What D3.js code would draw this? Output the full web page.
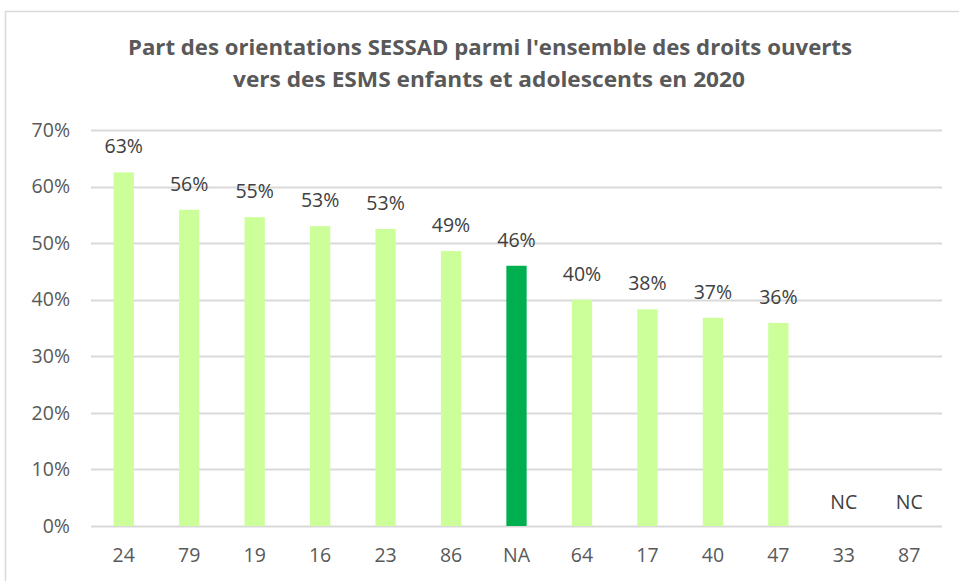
<!DOCTYPE html>
<html>
<head>
<meta charset="utf-8">
<script src="https://cdn.jsdelivr.net/npm/d3@7"></script>
<style>
  body { margin: 0; background: #fff; }
  svg { display: block; font-family: "Open Sans", "Liberation Sans", sans-serif; }
</style>
</head>
<body>
<svg id="chart" width="959" height="581"></svg>
<script>
var categories = ["24", "79", "19", "16", "23", "86", "NA", "64", "17", "40", "47", "33", "87"];
var values = [0.625, 0.559, 0.546, 0.530, 0.525, 0.486, 0.460, 0.400, 0.383, 0.368, 0.359, null, null];
var labels = ["63%", "56%", "55%", "53%", "53%", "49%", "46%", "40%", "38%", "37%", "36%", "NC", "NC"];
var yTicks = [0, 0.1, 0.2, 0.3, 0.4, 0.5, 0.6, 0.7];

var svg = d3.select("#chart");
var margin = { left: 91, right: 17 };
var width = 959;

// chart frame
svg.append("rect")
   .attr("x", 5.5).attr("y", 11.5)
   .attr("width", 980).attr("height", 600)
   .attr("fill", "#fff")
   .attr("stroke", "#d9d9d9")
   .attr("stroke-width", 1.5);

var x = d3.scaleBand()
          .domain(categories)
          .range([margin.left, width - margin.right])
          .paddingInner(0.69).paddingOuter(0.345);

var y = d3.scaleLinear()
          .domain([0, 0.7])
          .range([526, 130]);

// gridlines
svg.append("g")
   .selectAll("line")
   .data(yTicks)
   .enter().append("line")
   .attr("x1", margin.left).attr("x2", width - margin.right)
   .attr("y1", function(d) { return Math.round(y(d)) + 0.5; })
   .attr("y2", function(d) { return Math.round(y(d)) + 0.5; })
   .attr("stroke", "#d9d9d9")
   .attr("stroke-width", 2);

var yAxis = d3.axisLeft(y)
              .tickValues(yTicks)
              .tickFormat(d3.format(".0%"))
              .tickSize(0).tickPadding(21);

svg.append("g")
   .attr("transform", "translate(" + margin.left + ",0)")
   .call(yAxis)
   .call(function(g) { g.select(".domain").remove(); })
   .selectAll("text")
   .attr("font-size", "19.5px")
   .attr("font-family", "'Open Sans', sans-serif")
   .attr("fill", "#595959");

var xAxis = d3.axisBottom(x).tickSize(0).tickPadding(22);

svg.append("g")
   .attr("transform", "translate(0,526)")
   .call(xAxis)
   .call(function(g) { g.select(".domain").remove(); })
   .selectAll("text")
   .attr("font-size", "19.5px")
   .attr("font-family", "'Open Sans', sans-serif")
   .attr("fill", "#595959");

// bars
svg.append("g")
   .selectAll("rect")
   .data(categories)
   .enter().append("rect")
   .filter(function(d, i) { return values[i] !== null; })
   .attr("x", function(d) { return x(d); })
   .attr("width", x.bandwidth())
   .attr("y", function(d) { return y(values[categories.indexOf(d)]); })
   .attr("height", function(d) { return y(0) - y(values[categories.indexOf(d)]); })
   .attr("fill", function(d) { return d === "NA" ? "#00b050" : "#ccff99"; });

// value labels
svg.append("g")
   .selectAll("text")
   .data(categories)
   .enter().append("text")
   .attr("x", function(d) { return x(d) + x.bandwidth() / 2; })
   .attr("y", function(d, i) { return values[i] === null ? y(0) - 17 : y(values[i]) - 19; })
   .attr("text-anchor", "middle")
   .attr("font-size", "19.5px")
   .attr("fill", "#404040")
   .text(function(d, i) { return labels[i]; });

// title
var title = ["Part des orientations  SESSAD parmi l'ensemble des droits  ouverts",
             "vers des ESMS enfants et adolescents en 2020"];
svg.append("text")
   .attr("x", 490).attr("y", 55)
   .attr("text-anchor", "middle")
   .attr("font-family", "'Liberation Sans Narrow', 'Open Sans', sans-serif")
   .attr("font-size", "21px").attr("font-weight", "bold")
   .attr("fill", "#595959")
   .attr("textLength", 724).attr("lengthAdjust", "spacingAndGlyphs")
   .text(title[0]);
svg.append("text")
   .attr("x", 489).attr("y", 87)
   .attr("text-anchor", "middle")
   .attr("font-family", "'Liberation Sans Narrow', 'Open Sans', sans-serif")
   .attr("font-size", "21px").attr("font-weight", "bold")
   .attr("fill", "#595959")
   .attr("textLength", 512).attr("lengthAdjust", "spacingAndGlyphs")
   .text(title[1]);
</script>
</body>
</html>
